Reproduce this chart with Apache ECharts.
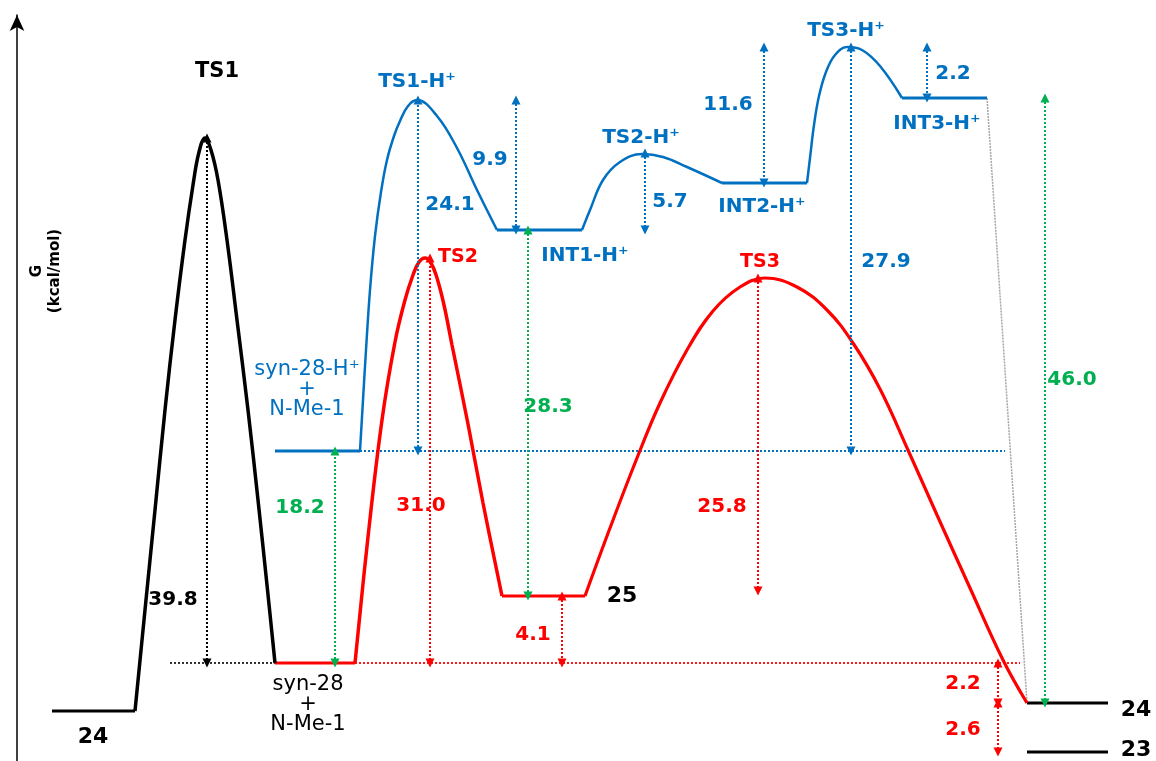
<!DOCTYPE html>
<html>
<head>
<meta charset="utf-8">
<script src="https://cdn.jsdelivr.net/npm/echarts@6/dist/echarts.min.js"></script>
<style>
html, body { margin: 0; padding: 0; background: #fff; }
#chart { width: 1156px; height: 761px; }
</style>
</head>
<body>
<div id="chart"></div>
<script>
// x = reaction coordinate (arbitrary), y = drawn free energy, syn-28 = 0
// flat levels: [xStart, xEnd, y]
var levelsBlack = [[5.2, 13.5, -4.8], [102.7, 110.8, -4.0], [102.7, 110.8, -8.9]];
var levelsRed = [[27.5, 35.5, 0], [50.2, 58.5, 6.7]];
var levelsBlue = [[27.5, 36.0, 21.2], [49.7, 58.2, 43.3], [72.2, 80.7, 48.0], [90.2, 98.7, 56.5]];

// barrier curves
var curveTS1 = [[13.5,-4.8],[14.5,5.3],[15.5,15.3],[16.5,25.3],[17.5,34.3],[18.5,42.3],[19.3,47.8],[19.9,51.1],[20.5,52.5],
  [21.1,51.3],[21.8,48.3],[22.7,42.3],[23.7,34.3],[24.8,25.3],[25.8,16.3],[26.7,7.8],[27.5,0]];
var curveTS1H = [[36.0,21.2],[36.3,26.3],[36.6,31.3],[37.0,37.3],[37.5,42.7],[38.1,47.1],[38.7,50.3],[39.4,52.7],[40.0,54.2],
  [40.8,55.7],[41.7,56.3],[43.7,54.7],[45.7,51.5],[47.7,47.3],[49.7,43.3]];
var curveTS2H = [[58.2,43.3],[59.0,45.3],[60.3,48.3],[62.0,50.1],[64.2,50.9],[66.3,50.6],[68.7,49.6],[72.2,48.0]];
var curveTS3H = [[80.7,48.0],[81.0,50.5],[81.4,53.8],[81.9,56.7],[82.6,59.1],[83.5,60.8],[84.7,61.6],[86.2,61.3],[88.0,59.7],[90.2,56.5]];
var curveTS2 = [[35.5,0],[36.8,12.6],[38.2,24.3],[39.5,32.1],[40.5,36.3],[41.3,38.8],[41.9,40.1],[42.5,40.5],
  [43.1,40.0],[43.7,38.5],[44.4,35.8],[45.2,31.8],[46.8,23.9],[48.3,16.0],[50.2,6.7]];
var curveTS3 = [[58.5,6.7],[61.0,13.5],[63.7,20.5],[66.0,26.0],[68.7,31.3],[71.3,35.2],[74.0,37.6],[76.5,38.5],
  [79.7,37.6],[82.7,35.3],[85.3,32.0],[88.0,27.4],[90.8,21.3],[93.7,14.8],[97.0,7.5],[100.3,0.3],[102.7,-4.0]];
var grayLink = [[98.7, 56.5], [102.7, -4.0]];

// dotted reference levels: [xStart, xEnd, y]
var refBlack = [17.0, 27.5, 0];
var refRed = [35.5, 102.0, 0];
var refBlue = [36.0, 100.5, 21.2];

// energy gaps (kcal/mol) with the levels they span
var gapValues = [39.8, 18.2, 24.1, 9.9, 5.7, 11.6, 27.9, 2.2, 31.0, 25.8, 4.1, 28.3, 46.0, 2.2, 2.6];
var gapFrom = [52.5, 0, 21.2, 56.3, 51.0, 61.6, 61.6, 61.6, 40.5, 38.5, 6.7, 43.3, 56.5, 0, -4.0];
var gapTo = [0, 21.2, 56.3, 43.3, 43.3, 48.0, 21.2, 56.5, 0, 7.2, 0, 6.7, -4.0, -4.0, -8.9];
var gapGroup = ['k', 'g', 'b', 'b', 'b', 'b', 'b', 'b', 'r', 'r', 'r', 'g', 'g', 'r', 'r'];

// species names
var speciesNames = ['TS1', '24', 'syn-28\n+\nN-Me-1', 'syn-28-H⁺\n+\nN-Me-1', 'TS1-H⁺', 'INT1-H⁺', 'TS2-H⁺', 'INT2-H⁺',
  'TS3-H⁺', 'INT3-H⁺', 'TS2', 'TS3', '25', '24', '23'];
var speciesGroup = ['k', 'k', 'k', 'b', 'b', 'b', 'b', 'b', 'b', 'b', 'r', 'r', 'k', 'k', 'k'];

// ---- layout ----
var colors = { k: '#000000', b: '#0070C0', r: '#FF0000', g: '#00B050' };
var gapX = [20.7, 33.5, 41.8, 51.6, 64.5, 76.4, 85.1, 92.7, 43.0, 75.8, 56.2, 52.8, 104.5, 99.8, 99.8];
var gapLabelPos = [[17.3,6.3],[30.0,15.5],[45.0,45.8],[49.0,50.3],[67.0,46.1],[72.8,55.8],[88.6,40.1],[95.3,58.9],
  [42.1,15.7],[72.2,15.6],[53.3,2.8],[54.8,25.6],[107.2,28.3],[96.3,-2.1],[96.3,-6.7]];
var speciesPos = [[21.7,59.1],[9.3,-7.4],[30.8,-4.2],[30.7,27.3],[41.7,58.1],[58.5,40.7],[64.1,52.5],[76.2,45.6],
  [84.6,63.2],[93.7,53.9],[45.8,40.6],[76.0,40.1],[62.2,6.7],[113.6,-4.7],[113.6,-8.7]];
var FONT = 'DejaVu Sans';

function lineSeries(points, color, width, smooth, dash) {
  return {
    type: 'line', data: points, symbol: 'none', showSymbol: false,
    smooth: smooth ? 0.4 : false,
    lineStyle: { color: color, width: width, type: dash || 'solid' },
    silent: true, z: dash ? 2 : 3
  };
}
function levelSeries(lv, color, width, dash) {
  return lineSeries([[lv[0], lv[2]], [lv[1], lv[2]]], color, width, false, dash);
}

var series = [];
series.push(levelSeries(refBlack, '#000', 1.6, [2, 2]));
series.push(levelSeries(refRed, colors.r, 1.8, [2, 2]));
series.push(levelSeries(refBlue, colors.b, 2, [2, 2]));
series.push(lineSeries(grayLink, '#A6A6A6', 1.5, false, [2, 1]));

levelsBlack.forEach(function (lv) { series.push(levelSeries(lv, colors.k, 3)); });
levelsRed.forEach(function (lv) { series.push(levelSeries(lv, colors.r, 3)); });
levelsBlue.forEach(function (lv) { series.push(levelSeries(lv, colors.b, 3)); });

series.push(lineSeries(curveTS1, colors.k, 3.5, true));
series.push(lineSeries(curveTS1H, colors.b, 2.5, true));
series.push(lineSeries(curveTS2H, colors.b, 2.5, true));
series.push(lineSeries(curveTS3H, colors.b, 2.5, true));
series.push(lineSeries(curveTS2, colors.r, 3.5, true));
series.push(lineSeries(curveTS3, colors.r, 3.2, true));

// double-headed dotted arrows
series.push({
  type: 'lines', coordinateSystem: 'cartesian2d', silent: true, z: 4,
  symbol: ['triangle', 'triangle'], symbolSize: 9,
  lineStyle: { width: 2, type: [2, 2], opacity: 1 },
  data: gapValues.map(function (v, i) {
    return {
      coords: [[gapX[i], gapFrom[i]], [gapX[i], gapTo[i]]],
      lineStyle: { color: colors[gapGroup[i]] }
    };
  })
});

function textItem(pos, text, color, size, weight, lh) {
  return {
    value: pos,
    label: { formatter: text, color: color, fontSize: size, fontWeight: weight, lineHeight: lh || size * 1.2 }
  };
}
var texts = [];
gapValues.forEach(function (v, i) {
  texts.push(textItem(gapLabelPos[i], v.toFixed(1), colors[gapGroup[i]], 20, 'bold'));
});
speciesNames.forEach(function (n, i) {
  var multi = n.indexOf('\n') >= 0;
  var big = (n === '24' || n === '23' || n === '25');
  var size = big ? 22 : (multi ? 21 : (n === 'TS1' ? 21 : 20));
  if (n === 'TS2' || n === 'TS3') size = 19;
  texts.push(textItem(speciesPos[i], n, colors[speciesGroup[i]], size, multi ? 'normal' : 'bold', multi ? 20 : null));
});
series.push({
  type: 'scatter', symbolSize: 0, silent: true, z: 6,
  itemStyle: { opacity: 1 },
  label: { show: true, position: 'inside', align: 'center', verticalAlign: 'middle', fontFamily: FONT },
  data: texts
});
// axis title
series.push({
  type: 'scatter', symbolSize: 0, silent: true, z: 6,
  itemStyle: { opacity: 1 },
  label: { show: true, position: 'inside', align: 'center', verticalAlign: 'middle', rotate: 90,
    fontFamily: FONT, fontSize: 15, fontWeight: 'bold', color: '#000', lineHeight: 18, formatter: 'G\n(kcal/mol)' },
  data: [[4.6, 39.2]]
});

var chart = echarts.init(document.getElementById('chart'));
chart.setOption({
  animation: false,
  backgroundColor: '#fff',
  grid: { left: 17, right: 0, top: 15, bottom: 0 },
  xAxis: { type: 'value', min: 1.7, max: 115.6, show: false },
  yAxis: {
    type: 'value', min: -9.8, max: 64.8,
    axisLine: { show: true, lineStyle: { color: '#000', width: 1.5 }, symbol: ['none', 'arrow'], symbolSize: [11, 16] },
    axisTick: { show: false }, axisLabel: { show: false }, splitLine: { show: false }
  },
  series: series
});
</script>
</body>
</html>
